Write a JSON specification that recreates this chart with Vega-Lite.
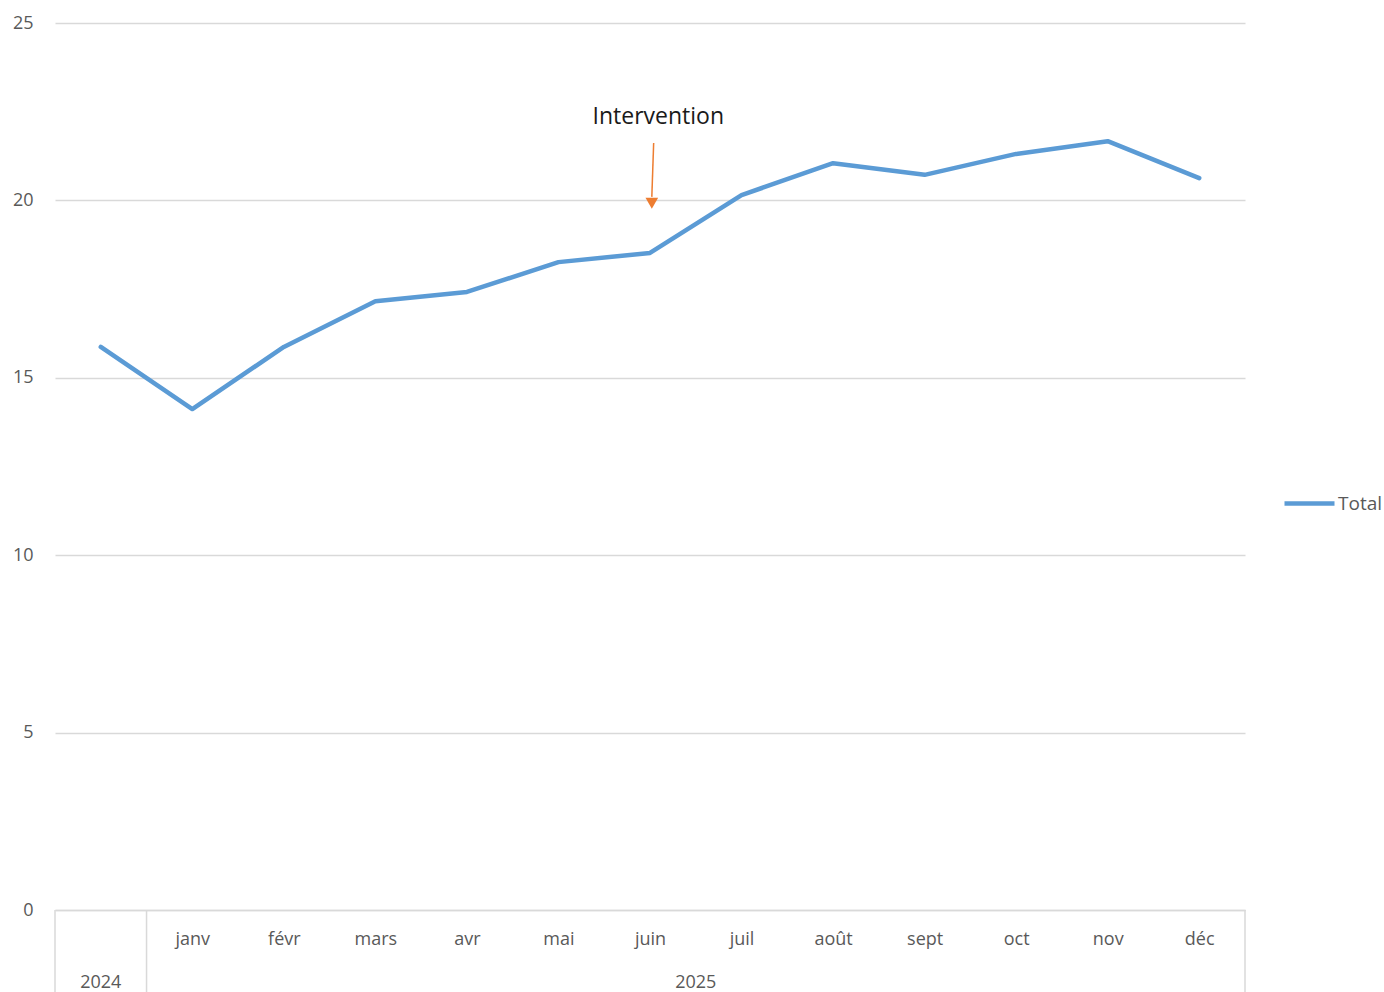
{
  "$schema": "https://vega.github.io/schema/vega-lite/v6.json",
  "autosize": "none",
  "width": 1190,
  "height": 887,
  "padding": {"left": 55, "top": 23, "right": 139, "bottom": 82},
  "background": "#ffffff",
  "config": {
    "view": {"stroke": null},
    "font": "Open Sans",
    "axis": {"labelFont": "Open Sans", "labelColor": "#595959", "labelFontSize": 18}
  },
  "datasets": {
    "main": [
      {"idx": 0, "mois": "", "annee": "2024", "value": 15.87},
      {"idx": 1, "mois": "janv", "annee": "2025", "value": 14.12},
      {"idx": 2, "mois": "févr", "annee": "2025", "value": 15.87},
      {"idx": 3, "mois": "mars", "annee": "2025", "value": 17.16},
      {"idx": 4, "mois": "avr", "annee": "2025", "value": 17.42},
      {"idx": 5, "mois": "mai", "annee": "2025", "value": 18.26},
      {"idx": 6, "mois": "juin", "annee": "2025", "value": 18.52},
      {"idx": 7, "mois": "juil", "annee": "2025", "value": 20.15},
      {"idx": 8, "mois": "août", "annee": "2025", "value": 21.05},
      {"idx": 9, "mois": "sept", "annee": "2025", "value": 20.72},
      {"idx": 10, "mois": "oct", "annee": "2025", "value": 21.31},
      {"idx": 11, "mois": "nov", "annee": "2025", "value": 21.67},
      {"idx": 12, "mois": "déc", "annee": "2025", "value": 20.63}
    ]
  },
  "layer": [
    {
      "data": {"name": "main"},
      "mark": {"type": "line", "strokeWidth": 4.5, "strokeJoin": "round", "strokeCap": "round"},
      "encoding": {
        "x": {
          "field": "idx", "type": "quantitative",
          "scale": {"domain": [-0.5, 12.5], "nice": false, "zero": false},
          "axis": {
            "title": null,
            "values": [1,2,3,4,5,6,7,8,9,10,11,12],
            "labelExpr": "['','janv','févr','mars','avr','mai','juin','juil','août','sept','oct','nov','déc'][datum.value]",
            "ticks": false, "grid": false,
            "domainColor": "#d9d9d9", "domainWidth": 1.5,
            "labelPadding": 20, "labelFlush": false, "labelOverlap": false
          }
        },
        "y": {
          "field": "value", "type": "quantitative",
          "scale": {"domain": [0, 25], "nice": false},
          "axis": {
            "title": null,
            "values": [0, 5, 10, 15, 20, 25],
            "domain": false, "ticks": false,
            "grid": true, "gridColor": "#d9d9d9", "gridWidth": 1.5,
            "labelPadding": 22
          }
        },
        "color": {
          "datum": "Total", "type": "nominal",
          "scale": {"range": ["#5B9BD5"]},
          "legend": {
            "title": null, "orient": "none", "legendX": 1227, "legendY": 453,
            "symbolType": "stroke", "symbolSize": 2500, "symbolStrokeWidth": 4.5,
            "labelFontSize": 19, "labelColor": "#595959", "labelOffset": 1, "labelFont": "Open Sans"
          }
        }
      }
    },
    {
      "data": {"values": [{"x": 6.04, "y": 21.62, "x2": 6.02, "y2": 20.1}]},
      "mark": {"type": "rule", "color": "#ED7D31", "strokeWidth": 1.5},
      "encoding": {
        "x": {"field": "x", "type": "quantitative"},
        "x2": {"field": "x2"},
        "y": {"field": "y", "type": "quantitative"},
        "y2": {"field": "y2"}
      }
    },
    {
      "data": {"values": [{"x": 6.02, "y": 19.92}]},
      "mark": {"type": "point", "shape": "triangle-down", "filled": true, "color": "#ED7D31", "size": 160, "opacity": 1},
      "encoding": {
        "x": {"field": "x", "type": "quantitative"},
        "y": {"field": "y", "type": "quantitative"}
      }
    },
    {
      "data": {"values": [{"x": 6.09, "y": 22.35, "t": "Intervention"}]},
      "mark": {"type": "text", "fontSize": 23, "color": "#1a1a1a", "font": "Open Sans", "align": "center", "baseline": "middle"},
      "encoding": {
        "x": {"field": "x", "type": "quantitative"},
        "y": {"field": "y", "type": "quantitative"},
        "text": {"field": "t"}
      }
    },
    {
      "data": {"values": [{"s": -0.5}, {"s": 0.5}, {"s": 12.5}]},
      "mark": {"type": "rule", "color": "#d9d9d9", "strokeWidth": 1.5},
      "encoding": {
        "x": {"field": "s", "type": "quantitative"},
        "y": {"datum": 0},
        "y2": {"datum": -2.4}
      }
    },
    {
      "data": {"values": [{"p": 0, "year": "2024"}, {"p": 6.5, "year": "2025"}]},
      "mark": {"type": "text", "fontSize": 18, "color": "#595959", "font": "Open Sans", "align": "center", "baseline": "middle"},
      "encoding": {
        "x": {"field": "p", "type": "quantitative"},
        "y": {"datum": -2.05},
        "text": {"field": "year"}
      }
    }
  ]
}
